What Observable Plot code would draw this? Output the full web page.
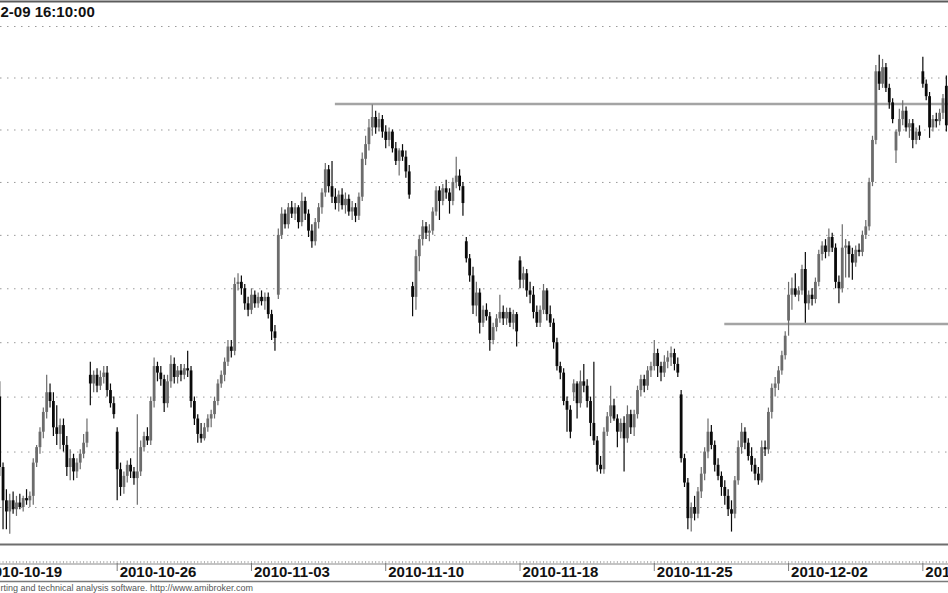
<!DOCTYPE html>
<html>
<head>
<meta charset="utf-8">
<script src="https://cdn.jsdelivr.net/npm/d3@7"></script>
<script src="https://cdn.jsdelivr.net/npm/@observablehq/plot@0.6"></script>
<style>
html, body { margin: 0; padding: 0; background: #fff; }
#chart { width: 948px; height: 593px; overflow: hidden; position: relative; }
</style>
</head>
<body>
<div id="chart"></div>
<script>
// Hourly bars (8 per session), bar index counted from 2010-10-19 09:00; bars 0-4 are off-screen
const firstBar = 5;

const opens = [
  2650, 2618, 2603,
  2598, 2603, 2599, 2602, 2600, 2604, 2603, 2605,
  2620, 2627, 2634, 2643, 2652, 2648, 2636, 2633,
  2637, 2628, 2618, 2622, 2616, 2620, 2624, 2629,
  2660, 2656, 2660, 2655, 2659, 2661, 2653, 2647,
  2634, 2617, 2609, 2614, 2619, 2616, 2613, 2616,
  2627, 2632, 2630, 2648, 2664, 2661, 2658, 2647,
  2657, 2665, 2659, 2662, 2660, 2663, 2662, 2648,
  2640, 2633, 2631, 2636, 2640, 2642, 2648, 2656,
  2660, 2666, 2673, 2671, 2702, 2703, 2700, 2693,
  2690, 2697, 2693, 2696, 2694, 2696, 2688, 2680,
  2697, 2725, 2735, 2730, 2738, 2735, 2738, 2731,
  2741, 2735, 2727, 2722, 2731, 2738, 2745, 2756,
  2748, 2743, 2740, 2744, 2739, 2742, 2736, 2738,
  2734, 2743, 2761, 2768, 2776, 2781, 2776, 2780,
  2774, 2770, 2774, 2766, 2760, 2765, 2762, 2755,
  2701, 2696, 2715, 2723, 2729, 2726, 2727, 2736,
  2746, 2741, 2747, 2745, 2741, 2750, 2753, 2748,
  2722, 2714, 2706, 2692, 2698, 2684, 2690, 2687,
  2676, 2682, 2686, 2689, 2686, 2689, 2684, 2688,
  2713, 2704, 2707, 2699, 2697, 2689, 2684, 2690,
  2699, 2688, 2684, 2675, 2664, 2661, 2648, 2644,
  2652, 2656, 2647, 2657, 2655, 2648, 2638, 2630,
  2619, 2617, 2634, 2641, 2646, 2640, 2634, 2638,
  2631, 2642, 2636, 2642, 2653, 2658, 2655, 2662,
  2664, 2670, 2664, 2661, 2666, 2668, 2670, 2665,
  2651, 2622, 2611, 2595, 2600, 2597, 2607, 2615,
  2625, 2634, 2628, 2619, 2614, 2609, 2605, 2599,
  2597, 2612, 2627, 2634, 2629, 2623, 2619, 2615,
  2612, 2627, 2626, 2643, 2654, 2656, 2662, 2669,
  2685, 2697, 2700, 2697, 2699, 2709, 2693, 2697,
  2695, 2703, 2716, 2720, 2717, 2724, 2719, 2703,
  2700, 2719, 2720, 2716, 2712, 2718, 2717, 2725,
  2729, 2750, 2770, 2803, 2797, 2805, 2795, 2788,
  2765, 2774, 2780, 2784, 2776, 2778, 2770, 2774,
  2803, 2797, 2791, 2776, 2780, 2779, 2783, 2796
];
const highs = [
  2657, 2620, 2608,
  2606, 2607, 2605, 2606, 2605, 2608, 2607, 2622,
  2628, 2636, 2645, 2660, 2656, 2652, 2646, 2640,
  2640, 2632, 2626, 2624, 2622, 2626, 2633, 2640,
  2666, 2662, 2663, 2662, 2664, 2664, 2656, 2650,
  2636, 2620, 2616, 2621, 2622, 2618, 2642, 2630,
  2634, 2636, 2650, 2668, 2666, 2664, 2660, 2660,
  2669, 2668, 2664, 2665, 2665, 2671, 2664, 2650,
  2642, 2638, 2638, 2642, 2644, 2650, 2658, 2662,
  2668, 2676, 2676, 2705, 2707, 2706, 2702, 2696,
  2700, 2699, 2698, 2699, 2698, 2698, 2690, 2683,
  2728, 2738, 2737, 2740, 2741, 2740, 2739, 2745,
  2743, 2737, 2730, 2733, 2740, 2747, 2759, 2758,
  2760, 2747, 2746, 2747, 2745, 2744, 2741, 2740,
  2745, 2764, 2772, 2780, 2787, 2784, 2783, 2782,
  2777, 2776, 2775, 2769, 2766, 2768, 2765, 2758,
  2703, 2718, 2725, 2732, 2731, 2730, 2738, 2748,
  2748, 2749, 2751, 2747, 2752, 2762, 2756, 2750,
  2724, 2716, 2710, 2703, 2700, 2692, 2693, 2689,
  2684, 2688, 2697, 2692, 2691, 2691, 2690, 2689,
  2715, 2710, 2709, 2703, 2701, 2692, 2692, 2702,
  2700, 2692, 2686, 2677, 2666, 2663, 2650, 2646,
  2658, 2657, 2662, 2665, 2658, 2650, 2666, 2632,
  2623, 2636, 2643, 2655, 2649, 2642, 2640, 2641,
  2646, 2644, 2644, 2655, 2660, 2660, 2664, 2666,
  2676, 2672, 2666, 2669, 2671, 2673, 2672, 2668,
  2653, 2624, 2613, 2602, 2605, 2609, 2618, 2627,
  2640, 2637, 2630, 2622, 2616, 2612, 2608, 2603,
  2614, 2630, 2638, 2636, 2631, 2627, 2622, 2618,
  2630, 2630, 2645, 2656, 2659, 2664, 2671, 2680,
  2703, 2705, 2707, 2701, 2711, 2717, 2699, 2700,
  2705, 2718, 2722, 2723, 2728, 2726, 2721, 2706,
  2730, 2723, 2722, 2719, 2720, 2721, 2727, 2732,
  2752, 2772, 2806, 2811, 2809, 2807, 2797, 2790,
  2775, 2785, 2789, 2786, 2780, 2780, 2776, 2777,
  2810, 2799, 2793, 2782, 2783, 2785, 2792, 2801
];
const lows = [
  2614, 2590, 2590,
  2588, 2597, 2596, 2599, 2598, 2601, 2600, 2601,
  2618, 2624, 2631, 2640, 2645, 2632, 2628, 2626,
  2625, 2614, 2612, 2612, 2613, 2617, 2622, 2627,
  2646, 2652, 2652, 2653, 2656, 2650, 2645, 2640,
  2603, 2605, 2606, 2611, 2613, 2610, 2601, 2614,
  2625, 2628, 2628, 2645, 2657, 2655, 2643, 2645,
  2654, 2656, 2656, 2657, 2658, 2659, 2645, 2637,
  2629, 2629, 2630, 2634, 2636, 2640, 2646, 2654,
  2657, 2664, 2668, 2669, 2699, 2697, 2690, 2687,
  2688, 2691, 2691, 2692, 2690, 2686, 2676, 2671,
  2695, 2723, 2728, 2728, 2733, 2732, 2728, 2729,
  2732, 2724, 2719, 2720, 2728, 2735, 2743, 2745,
  2740, 2737, 2736, 2737, 2735, 2734, 2732, 2731,
  2732, 2741, 2758, 2765, 2772, 2773, 2774, 2771,
  2766, 2767, 2764, 2758, 2753, 2760, 2752, 2742,
  2687, 2690, 2708, 2720, 2723, 2722, 2725, 2734,
  2732, 2739, 2742, 2735, 2739, 2747, 2746, 2734,
  2712, 2703, 2688, 2687, 2679, 2682, 2685, 2671,
  2674, 2680, 2684, 2683, 2683, 2682, 2681, 2673,
  2700, 2700, 2696, 2693, 2686, 2682, 2682, 2688,
  2685, 2682, 2672, 2662, 2658, 2646, 2634, 2631,
  2648, 2640, 2645, 2652, 2645, 2632, 2628, 2616,
  2615, 2615, 2632, 2638, 2639, 2627, 2631, 2616,
  2629, 2633, 2632, 2640, 2650, 2652, 2653, 2659,
  2662, 2659, 2657, 2659, 2663, 2664, 2662, 2659,
  2620, 2609, 2590, 2589, 2594, 2595, 2604, 2612,
  2622, 2626, 2616, 2612, 2605, 2601, 2596, 2589,
  2595, 2610, 2624, 2626, 2621, 2616, 2612, 2610,
  2611, 2623, 2624, 2640, 2650, 2653, 2660, 2667,
  2678, 2690, 2696, 2694, 2697, 2684, 2690, 2692,
  2693, 2701, 2713, 2714, 2715, 2717, 2700, 2693,
  2698, 2705, 2705, 2704, 2710, 2715, 2715, 2723,
  2727, 2748, 2768, 2794, 2795, 2793, 2785, 2778,
  2759, 2772, 2777, 2774, 2771, 2766, 2768, 2770,
  2795, 2789, 2771, 2774, 2776, 2777, 2780, 2774
];
const closes = [
  2618, 2603, 2598,
  2603, 2599, 2602, 2600, 2604, 2603, 2605, 2620,
  2627, 2634, 2643, 2652, 2648, 2636, 2633, 2637,
  2628, 2618, 2622, 2616, 2620, 2624, 2629, 2634,
  2656, 2660, 2655, 2659, 2661, 2653, 2647, 2642,
  2617, 2609, 2614, 2619, 2616, 2613, 2616, 2627,
  2632, 2630, 2648, 2664, 2661, 2658, 2647, 2657,
  2665, 2659, 2662, 2660, 2663, 2662, 2648, 2640,
  2633, 2631, 2636, 2640, 2642, 2648, 2656, 2660,
  2666, 2673, 2671, 2702, 2703, 2700, 2693, 2690,
  2697, 2693, 2696, 2694, 2696, 2688, 2680, 2677,
  2725, 2735, 2730, 2738, 2735, 2738, 2731, 2741,
  2735, 2727, 2722, 2731, 2738, 2745, 2756, 2748,
  2743, 2740, 2744, 2739, 2742, 2736, 2738, 2734,
  2743, 2761, 2768, 2776, 2781, 2776, 2780, 2774,
  2770, 2774, 2766, 2760, 2765, 2762, 2755, 2744,
  2696, 2715, 2723, 2729, 2726, 2727, 2736, 2746,
  2741, 2747, 2745, 2741, 2750, 2753, 2748, 2740,
  2714, 2706, 2692, 2698, 2684, 2690, 2687, 2676,
  2682, 2686, 2689, 2686, 2689, 2684, 2688, 2680,
  2704, 2707, 2699, 2697, 2689, 2684, 2690, 2699,
  2688, 2684, 2675, 2664, 2661, 2648, 2644, 2634,
  2656, 2647, 2657, 2655, 2648, 2638, 2630, 2619,
  2617, 2634, 2641, 2646, 2640, 2634, 2638, 2631,
  2642, 2636, 2642, 2653, 2658, 2655, 2662, 2664,
  2670, 2664, 2661, 2666, 2668, 2670, 2665, 2661,
  2622, 2611, 2595, 2600, 2597, 2607, 2615, 2625,
  2634, 2628, 2619, 2614, 2609, 2605, 2599, 2597,
  2612, 2627, 2634, 2629, 2623, 2619, 2615, 2612,
  2627, 2626, 2643, 2654, 2656, 2662, 2669, 2678,
  2697, 2700, 2697, 2699, 2709, 2693, 2697, 2695,
  2703, 2716, 2720, 2717, 2724, 2719, 2703, 2700,
  2719, 2720, 2716, 2712, 2718, 2717, 2725, 2729,
  2750, 2770, 2803, 2797, 2805, 2795, 2788, 2780,
  2774, 2780, 2784, 2776, 2778, 2770, 2774, 2772,
  2797, 2791, 2776, 2780, 2779, 2783, 2790, 2777
];

// Session-start bars that carry a date label (every 5 sessions)
const dayLabels = ["2010-10-19", "2010-10-26", "2010-11-03", "2010-11-10", "2010-11-18", "2010-11-25", "2010-12-02", "2010-12-09"];
const dayLabelBars = [0, 40, 80, 120, 160, 200, 240, 280];
const barCount = 288;

// Price grid (log scale, 25-point steps)
const gridPrices = [2600, 2625, 2650, 2675, 2700, 2725, 2750, 2775, 2800, 2825];

// Horizontal support/resistance lines drawn on the chart
const levelPrices = [2787.5, 2683.6];
const levelStartBars = [105, 221];

// Texts as they are visible in the (cropped) picture
const lastStamp = "2-09 16:10:00";
const credit = "rting and technical analysis software. http://www.amibroker.com";

const upColor = "#6c6c6c", downColor = "#0a0a0a";
const bars = opens.map((o, k) => ({i: firstBar + k, o, h: highs[k], l: lows[k], c: closes[k]}));
const tone = d => (d.c >= d.o ? upColor : downColor);
const labelAt = new Map(dayLabelBars.map((b, k) => [b, dayLabels[k]]));
const levelIdx = levelPrices.map((_, k) => k);

const chart = Plot.plot({
  width: 948,
  height: 593,
  marginTop: 1,
  marginBottom: 49,
  marginLeft: 0,
  marginRight: 0,
  style: {fontFamily: "'Liberation Sans', Arial, sans-serif", background: "#fff", color: "#000", overflow: "hidden"},
  x: {type: "linear", domain: [0, barCount], range: [-17.6, 949.2], label: null},
  y: {type: "log", domain: [2600, 2825], range: [507, 26], axis: null},
  marks: [
    Plot.ruleY(gridPrices, {stroke: "#9a9a9a", strokeWidth: 1, strokeDasharray: "1.5,5.5"}),
    Plot.ruleY(levelIdx, {y: k => levelPrices[k], x1: k => levelStartBars[k], x2: barCount + 4, stroke: "#a4a4a4", strokeWidth: 2.5}),
    Plot.ruleX(bars, {x: "i", y1: "l", y2: "h", stroke: tone, strokeWidth: 1.2}),
    Plot.ruleX(bars, {x: "i", y1: "o", y2: "c", stroke: tone, strokeWidth: 2.8}),
    Plot.frame({anchor: "top", stroke: "#5c5c5c", strokeWidth: 2}),
    Plot.frame({anchor: "bottom", stroke: "#6e6e6e", strokeWidth: 2}),
    Plot.frame({anchor: "bottom", dy: 19.5, stroke: "#8a8a8a"}),
    Plot.frame({anchor: "bottom", dy: 37, stroke: "#7a7a7a", strokeWidth: 1.5}),
    Plot.axisX(d3.range(0, barCount + 1), {anchor: "bottom", dy: 17, tickSize: 2.5, fill: "none", stroke: "#b4b4b4", label: null}),
    Plot.axisX(dayLabelBars, {anchor: "bottom", dy: 19, tickSize: 8, fill: "none", stroke: "#7a7a7a", label: null}),
    Plot.axisX(dayLabelBars, {anchor: "bottom", dy: 19, tickSize: 0, tickPadding: 3, stroke: "none", textAnchor: "start", dx: 2.5, tickFormat: d => labelAt.get(d), fontSize: 15, fontWeight: "bold", fill: "#111", label: null}),
    Plot.text([lastStamp], {text: d => d, frameAnchor: "top-left", textAnchor: "start", lineAnchor: "top", dx: 0, dy: 5, fontSize: 15, fontWeight: "bold", fill: "#111"}),
    Plot.text([credit], {text: d => d, frameAnchor: "bottom-left", textAnchor: "start", lineAnchor: "bottom", dx: 0, dy: 46, fontSize: 9, fill: "#555"})
  ]
});
document.getElementById("chart").appendChild(chart);
</script>
</body>
</html>
